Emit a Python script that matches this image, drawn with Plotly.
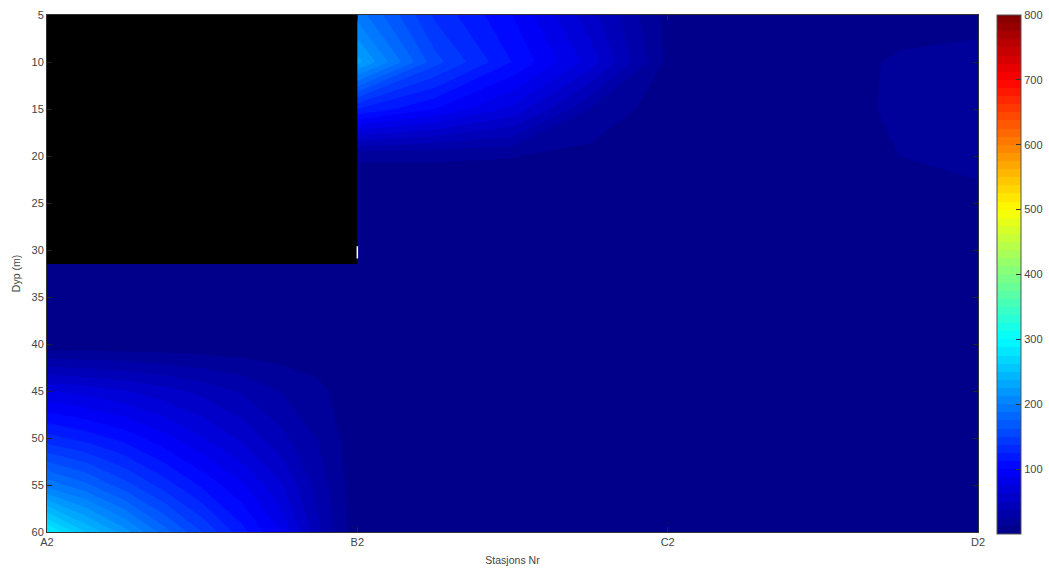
import plotly.graph_objects as go

station_pos = [0, 1, 2, 3]
station_names = ["A2", "B2", "C2", "D2"]
depth_ticks = [5, 10, 15, 20, 25, 30, 35, 40, 45, 50, 55, 60]
cbar_ticks = [100, 200, 300, 400, 500, 600, 700, 800]

x_nodes = [0, 0.125, 0.25, 0.375, 0.5, 0.625, 0.75, 0.875, 1, 1.25, 1.5, 1.75, 2, 2.25, 2.5, 2.75, 3]
y_nodes = [5, 10, 15, 20, 25, 30, 35, 40, 45, 50, 55, 60]
conc = [
    [3, 3, 3, 3, 3, 3, 3, 3, 195, 135, 100, 55, 8, 5, 6, 8, 9],
    [3, 3, 3, 3, 3, 3, 3, 3, 230, 155, 112, 70, 9, 6, 8, 14, 16],
    [3, 3, 3, 3, 3, 3, 3, 3, 125, 100, 72, 25, 4, 6, 9, 14, 18],
    [3, 3, 3, 3, 3, 3, 3, 3, 14, 14, 13, 8, 3, 5, 8, 12.6, 15],
    [3, 3, 3, 3, 3, 3, 3, 3, 3, 3, 3, 3, 3, 3, 5, 8, 10],
    [3, 3, 3, 3, 3, 3, 3, 3, 2, 2, 2, 2, 2, 2, 3, 4, 5],
    [3, 3, 3, 3, 3, 3, 3, 2, 2, 2, 2, 2, 2, 2, 2, 2, 2],
    [3, 3, 3, 3, 3, 3, 3, 3, 2, 2, 2, 2, 2, 2, 2, 2, 2],
    [75, 70, 63, 55, 46, 36, 25, 16, 2, 2, 2, 2, 2, 2, 2, 2, 2],
    [130, 120, 108, 92, 76, 60, 42, 24, 3, 2, 2, 2, 2, 2, 2, 2, 2],
    [195, 178, 155, 132, 110, 90, 65, 32, 4, 2, 2, 2, 2, 2, 2, 2, 2],
    [290, 250, 218, 182, 150, 118, 88, 40, 3, 2, 2, 2, 2, 2, 2, 2, 2],
]
mask_x = [0, 1, 1, 0, 0]
mask_y = [5, 5, 31.5, 31.5, 5]
mark_x = [1, 1]
mark_y = [29.6, 30.9]

jet = [
    [0, "rgb(0,0,131)"],
    [0.125, "rgb(0,0,255)"],
    [0.375, "rgb(0,255,255)"],
    [0.625, "rgb(255,255,0)"],
    [0.875, "rgb(255,0,0)"],
    [1, "rgb(128,0,0)"],
]

fig = go.Figure()
fig.add_trace(go.Contour(
    x=x_nodes, y=y_nodes, z=conc,
    colorscale=jet, zmin=0, zmax=800,
    autocontour=False,
    contours=dict(start=0, end=800, size=12.5, coloring="fill", showlines=False),
    line=dict(width=0, smoothing=0),
    colorbar=dict(
        x=1.0204, xanchor="left", xpad=0, ypad=0,
        y=1, yanchor="top", len=1.004, lenmode="fraction",
        thickness=24, thicknessmode="pixels",
        tickvals=cbar_ticks, ticks="inside", ticklen=5, tickcolor="#333",
        tickfont=dict(family="Liberation Sans", size=11, color="#444"),
        outlinecolor="#555", outlinewidth=1,
    ),
))
fig.add_trace(go.Scatter(
    x=mask_x, y=mask_y, mode="lines", fill="toself", fillcolor="#000",
    line=dict(color="#000", width=0), showlegend=False, hoverinfo="skip",
))
fig.add_trace(go.Scatter(
    x=mark_x, y=mark_y, mode="lines", line=dict(color="white", width=1.5),
    showlegend=False, hoverinfo="skip",
))

axis_font = dict(family="Liberation Sans", size=11, color="#444")
title_font = dict(family="Liberation Sans", size=10.5, color="#444")
fig.update_layout(
    width=1049, height=569,
    margin=dict(l=47, r=71, t=15, b=37, autoexpand=False),
    paper_bgcolor="white", plot_bgcolor="white",
    showlegend=False,
    xaxis=dict(
        range=[0, 3], tickvals=station_pos, ticktext=station_names,
        ticks="inside", ticklen=5, tickcolor="#222", tickfont=axis_font,
        mirror="ticks", showline=True, linecolor="#333", linewidth=1,
        showgrid=False, zeroline=False, automargin=False,
        title=dict(text="Stasjons Nr", font=title_font, standoff=9),
    ),
    yaxis=dict(
        range=[60, 5], tickvals=depth_ticks,
        ticks="inside", ticklen=5, tickcolor="#222", tickfont=axis_font,
        mirror="ticks", showline=True, linecolor="#333", linewidth=1,
        showgrid=False, zeroline=False, automargin=False,
        title=dict(text="Dyp (m)", font=title_font, standoff=8),
    ),
)
fig.write_html(
    "out.html",
    config=dict(displayModeBar=False),
    post_script="document.body.style.margin='0';document.documentElement.style.overflow='hidden';",
)
